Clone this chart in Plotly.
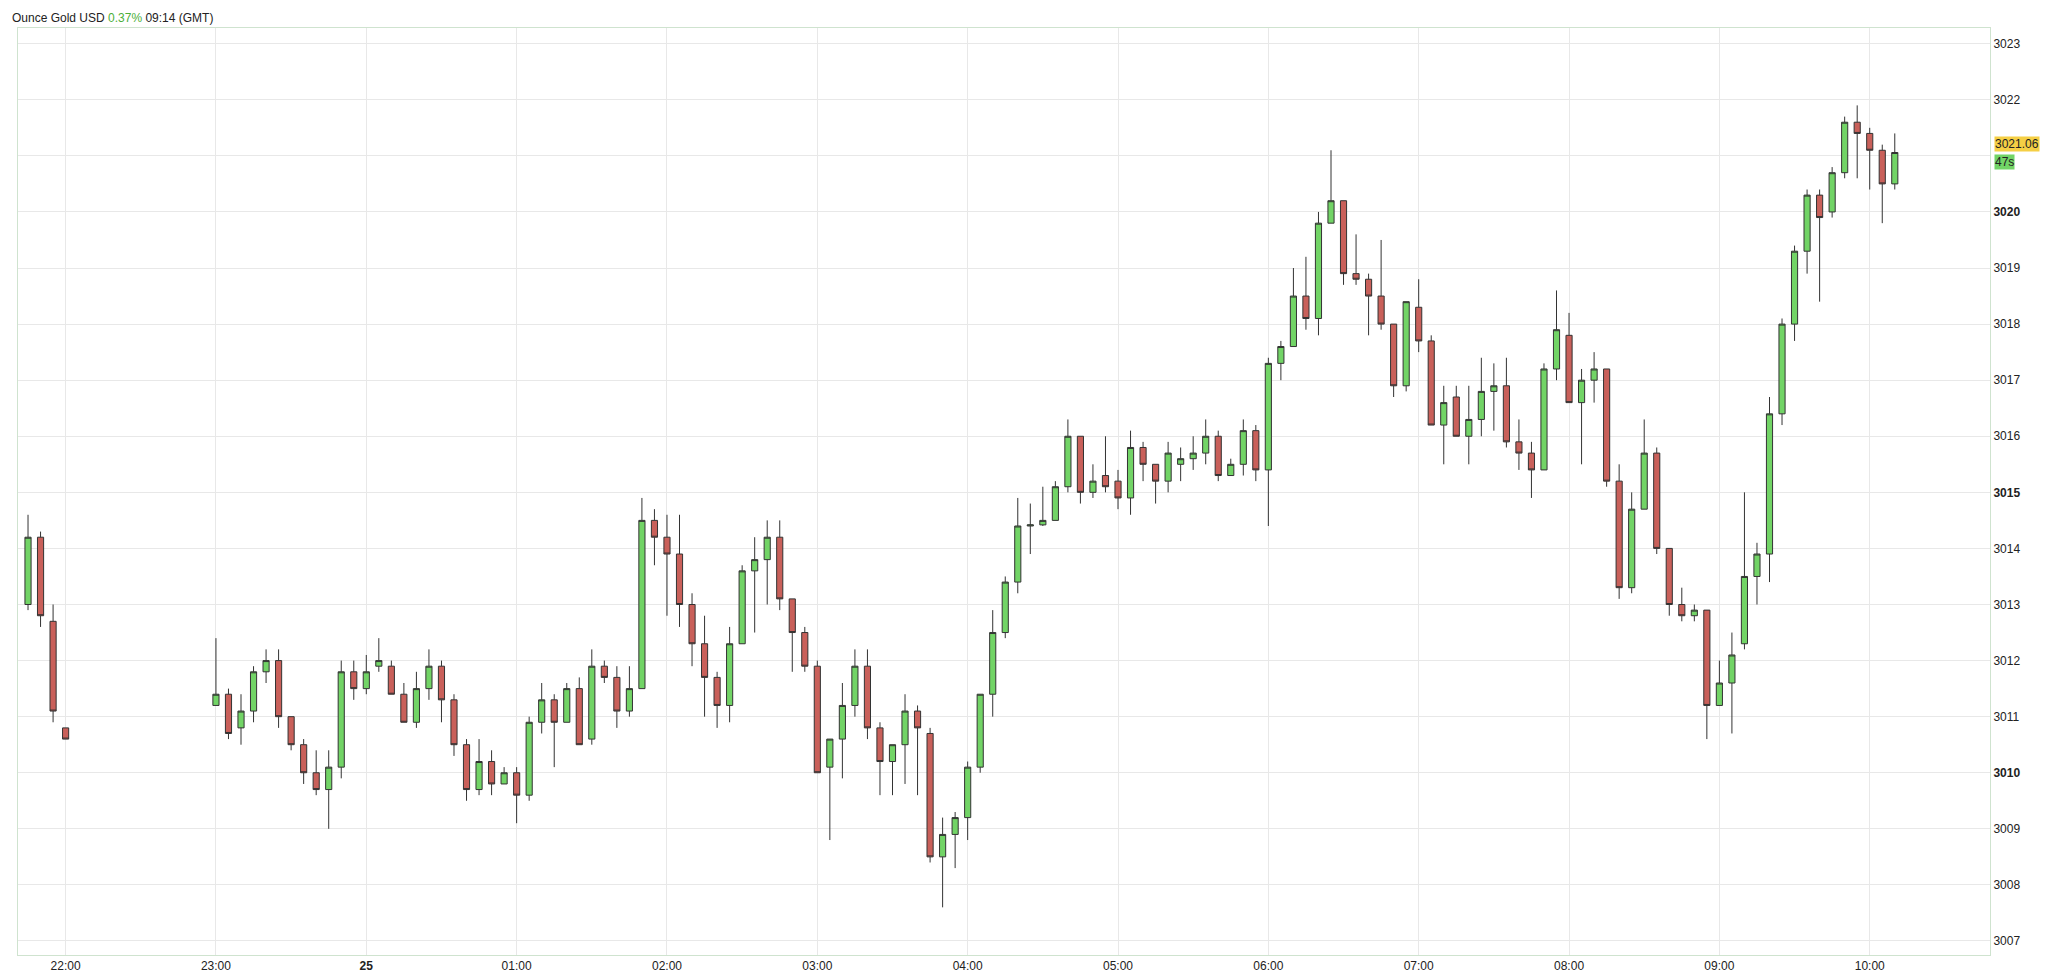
import pandas as pd
import plotly.graph_objects as go

# 5-minute candles, 24-25 Mar 2025 (GMT)
# open, high, low, close per candle
early_ohlc = [
    (3013.0, 3014.6, 3012.9, 3014.2),
    (3014.2, 3014.3, 3012.6, 3012.8),
    (3012.7, 3013.0, 3010.9, 3011.1),
    (3010.8, 3010.8, 3010.6, 3010.6),
]
late_ohlc = [
    # 23:00
    (3011.2, 3012.4, 3011.2, 3011.4), (3011.4, 3011.5, 3010.6, 3010.7),
    (3010.8, 3011.4, 3010.5, 3011.1), (3011.1, 3011.9, 3010.9, 3011.8),
    (3011.8, 3012.2, 3011.6, 3012.0), (3012.0, 3012.2, 3010.8, 3011.0),
    (3011.0, 3011.0, 3010.4, 3010.5), (3010.5, 3010.6, 3009.8, 3010.0),
    (3010.0, 3010.4, 3009.6, 3009.7), (3009.7, 3010.4, 3009.0, 3010.1),
    (3010.1, 3012.0, 3009.9, 3011.8), (3011.8, 3012.0, 3011.3, 3011.5),
    # 00:00
    (3011.5, 3012.1, 3011.4, 3011.8), (3011.9, 3012.4, 3011.8, 3012.0),
    (3011.9, 3012.0, 3011.4, 3011.4), (3011.4, 3011.6, 3010.9, 3010.9),
    (3010.9, 3011.8, 3010.8, 3011.5), (3011.5, 3012.2, 3011.3, 3011.9),
    (3011.9, 3012.0, 3010.9, 3011.3), (3011.3, 3011.4, 3010.3, 3010.5),
    (3010.5, 3010.6, 3009.5, 3009.7), (3009.7, 3010.6, 3009.6, 3010.2),
    (3010.2, 3010.4, 3009.6, 3009.8), (3009.8, 3010.1, 3009.8, 3010.0),
    # 01:00
    (3010.0, 3010.1, 3009.1, 3009.6), (3009.6, 3011.0, 3009.5, 3010.9),
    (3010.9, 3011.6, 3010.7, 3011.3), (3011.3, 3011.4, 3010.1, 3010.9),
    (3010.9, 3011.6, 3010.9, 3011.5), (3011.5, 3011.7, 3010.5, 3010.5),
    (3010.6, 3012.2, 3010.5, 3011.9), (3011.9, 3012.0, 3011.6, 3011.7),
    (3011.7, 3011.9, 3010.8, 3011.1), (3011.1, 3011.9, 3011.0, 3011.5),
    (3011.5, 3014.9, 3011.5, 3014.5), (3014.5, 3014.7, 3013.7, 3014.2),
    # 02:00
    (3014.2, 3014.6, 3012.8, 3013.9), (3013.9, 3014.6, 3012.6, 3013.0),
    (3013.0, 3013.2, 3011.9, 3012.3), (3012.3, 3012.8, 3011.0, 3011.7),
    (3011.7, 3011.8, 3010.8, 3011.2), (3011.2, 3012.6, 3010.9, 3012.3),
    (3012.3, 3013.7, 3012.3, 3013.6), (3013.6, 3014.2, 3012.5, 3013.8),
    (3013.8, 3014.5, 3013.0, 3014.2), (3014.2, 3014.5, 3012.9, 3013.1),
    (3013.1, 3013.1, 3011.8, 3012.5), (3012.5, 3012.6, 3011.8, 3011.9),
    # 03:00
    (3011.9, 3012.0, 3010.0, 3010.0), (3010.1, 3010.6, 3008.8, 3010.6),
    (3010.6, 3011.6, 3009.9, 3011.2), (3011.2, 3012.2, 3011.0, 3011.9),
    (3011.9, 3012.2, 3010.6, 3010.8), (3010.8, 3010.9, 3009.6, 3010.2),
    (3010.2, 3010.5, 3009.6, 3010.5), (3010.5, 3011.4, 3009.8, 3011.1),
    (3011.1, 3011.2, 3009.6, 3010.8), (3010.7, 3010.8, 3008.4, 3008.5),
    (3008.5, 3009.2, 3007.6, 3008.9), (3008.9, 3009.3, 3008.3, 3009.2),
    # 04:00
    (3009.2, 3010.2, 3008.8, 3010.1), (3010.1, 3011.4, 3010.0, 3011.4),
    (3011.4, 3012.9, 3011.0, 3012.5), (3012.5, 3013.5, 3012.4, 3013.4),
    (3013.4, 3014.9, 3013.2, 3014.4), (3014.4, 3014.8, 3013.9, 3014.42),
    (3014.42, 3015.1, 3014.4, 3014.5), (3014.5, 3015.2, 3014.5, 3015.1),
    (3015.1, 3016.3, 3015.0, 3016.0), (3016.0, 3016.0, 3014.8, 3015.0),
    (3015.0, 3015.5, 3014.9, 3015.2), (3015.3, 3016.0, 3015.0, 3015.1),
    # 05:00
    (3015.2, 3015.4, 3014.7, 3014.9), (3014.9, 3016.1, 3014.6, 3015.8),
    (3015.8, 3015.9, 3015.2, 3015.5), (3015.5, 3015.5, 3014.8, 3015.2),
    (3015.2, 3015.9, 3015.0, 3015.7), (3015.5, 3015.8, 3015.2, 3015.6),
    (3015.6, 3016.0, 3015.4, 3015.7), (3015.7, 3016.3, 3015.5, 3016.0),
    (3016.0, 3016.1, 3015.2, 3015.3), (3015.3, 3015.6, 3015.3, 3015.5),
    (3015.5, 3016.3, 3015.3, 3016.1), (3016.1, 3016.2, 3015.2, 3015.4),
    # 06:00
    (3015.4, 3017.4, 3014.4, 3017.3), (3017.3, 3017.7, 3017.0, 3017.6),
    (3017.6, 3019.0, 3017.6, 3018.5), (3018.5, 3019.2, 3017.9, 3018.1),
    (3018.1, 3020.0, 3017.8, 3019.8), (3019.8, 3021.1, 3019.8, 3020.2),
    (3020.2, 3020.2, 3018.7, 3018.9), (3018.9, 3019.6, 3018.7, 3018.8),
    (3018.8, 3018.9, 3017.8, 3018.5), (3018.5, 3019.5, 3017.9, 3018.0),
    (3018.0, 3018.0, 3016.7, 3016.9), (3016.9, 3018.4, 3016.8, 3018.4),
    # 07:00
    (3018.3, 3018.8, 3017.5, 3017.7), (3017.7, 3017.8, 3016.2, 3016.2),
    (3016.2, 3016.9, 3015.5, 3016.6), (3016.7, 3016.9, 3016.0, 3016.0),
    (3016.0, 3016.9, 3015.5, 3016.3), (3016.3, 3017.4, 3016.0, 3016.8),
    (3016.8, 3017.3, 3016.1, 3016.9), (3016.9, 3017.4, 3015.8, 3015.9),
    (3015.9, 3016.3, 3015.4, 3015.7), (3015.7, 3015.9, 3014.9, 3015.4),
    (3015.4, 3017.3, 3015.4, 3017.2), (3017.2, 3018.6, 3017.0, 3017.9),
    # 08:00
    (3017.8, 3018.2, 3016.6, 3016.6), (3016.6, 3017.2, 3015.5, 3017.0),
    (3017.0, 3017.5, 3016.6, 3017.2), (3017.2, 3017.2, 3015.1, 3015.2),
    (3015.2, 3015.5, 3013.1, 3013.3), (3013.3, 3015.0, 3013.2, 3014.7),
    (3014.7, 3016.3, 3014.7, 3015.7), (3015.7, 3015.8, 3013.9, 3014.0),
    (3014.0, 3014.0, 3012.8, 3013.0), (3013.0, 3013.3, 3012.7, 3012.8),
    (3012.8, 3013.0, 3012.7, 3012.9), (3012.9, 3012.9, 3010.6, 3011.2),
    # 09:00
    (3011.2, 3012.0, 3011.2, 3011.6), (3011.6, 3012.5, 3010.7, 3012.1),
    (3012.3, 3015.0, 3012.2, 3013.5), (3013.5, 3014.1, 3013.0, 3013.9),
    (3013.9, 3016.7, 3013.4, 3016.4), (3016.4, 3018.1, 3016.2, 3018.0),
    (3018.0, 3019.4, 3017.7, 3019.3), (3019.3, 3020.4, 3018.9, 3020.3),
    (3020.3, 3020.4, 3018.4, 3019.9), (3020.0, 3020.8, 3019.9, 3020.7),
    (3020.7, 3021.7, 3020.6, 3021.6), (3021.6, 3021.9, 3020.6, 3021.4),
    # 10:00
    (3021.4, 3021.5, 3020.4, 3021.1), (3021.1, 3021.2, 3019.8, 3020.5),
    (3020.5, 3021.4, 3020.4, 3021.06),
]

last_price = "3021.06"
countdown = "47s"
y_ticks = list(range(3007, 3024))
hour_ticks = ["2025-03-24 22:00", "2025-03-24 23:00", "2025-03-25 00:00"] + \
    [f"2025-03-25 {h:02d}:00" for h in range(1, 11)]
hour_labels = ["22:00", "23:00", "<b>25</b>"] + [f"{h:02d}:00" for h in range(1, 11)]

times = list(pd.date_range("2025-03-24 21:45", periods=len(early_ohlc), freq="5min")) + \
    list(pd.date_range("2025-03-24 23:00", periods=len(late_ohlc), freq="5min"))
ohlc = early_ohlc + late_ohlc
opens = [c[0] for c in ohlc]
highs = [c[1] for c in ohlc]
lows = [c[2] for c in ohlc]
closes = [c[3] for c in ohlc]

fig = go.Figure(go.Candlestick(
    x=times, open=opens, high=highs, low=lows, close=closes,
    increasing=dict(fillcolor="#72d466", line=dict(color="#333333", width=1)),
    decreasing=dict(fillcolor="#c9605a", line=dict(color="#333333", width=1)),
    whiskerwidth=0, showlegend=False,
))

# 3021 label sits under the price marker, so it is left blank
tick_text = [f"<b>{v}</b>" if v % 5 == 0 else ("" if v == 3021 else str(v)) for v in y_ticks]

fig.update_layout(
    width=2048, height=974,
    margin=dict(l=9, r=66, t=20, b=18),
    paper_bgcolor="white", plot_bgcolor="white",
    font=dict(family="Helvetica, Arial, sans-serif", size=12, color="#222"),
    xaxis=dict(
        rangeslider=dict(visible=False),
        range=["2025-03-24 21:41", "2025-03-25 10:48"],
        tickvals=hour_ticks, ticktext=hour_labels,
        showgrid=True, gridcolor="#e8e8e8", zeroline=False,
        showline=True, linecolor="#cfe3cf", mirror=True,
        ticks="", tickfont=dict(size=12),
    ),
    yaxis=dict(
        side="right", range=[3006.75, 3023.28],
        tickvals=y_ticks, ticktext=tick_text,
        showgrid=True, gridcolor="#e8e8e8", zeroline=False,
        showline=True, linecolor="#cfe3cf", mirror=True,
        ticks="", tickfont=dict(size=12),
    ),
)

fig.add_annotation(
    xref="paper", yref="paper", x=0, y=1, yshift=1, xshift=-8, xanchor="left", yanchor="bottom",
    text="Ounce Gold USD <span style='color:#4caf3a'>0.37%</span> 09:14 (GMT)",
    showarrow=False, font=dict(size=12, color="#222"),
)
fig.add_annotation(
    xref="paper", yref="y", x=1, y=3021.06, xshift=4, yshift=1, xanchor="left", yanchor="bottom",
    text=last_price, showarrow=False, bgcolor="#f5cf45", borderpad=0,
    font=dict(size=12, color="#222"),
)
fig.add_annotation(
    xref="paper", yref="y", x=1, y=3021.06, xshift=4, yshift=-1, xanchor="left", yanchor="top",
    text=countdown, showarrow=False, bgcolor="#72d466", borderpad=0,
    font=dict(size=12, color="#222"),
)

fig.write_html("out.html")
